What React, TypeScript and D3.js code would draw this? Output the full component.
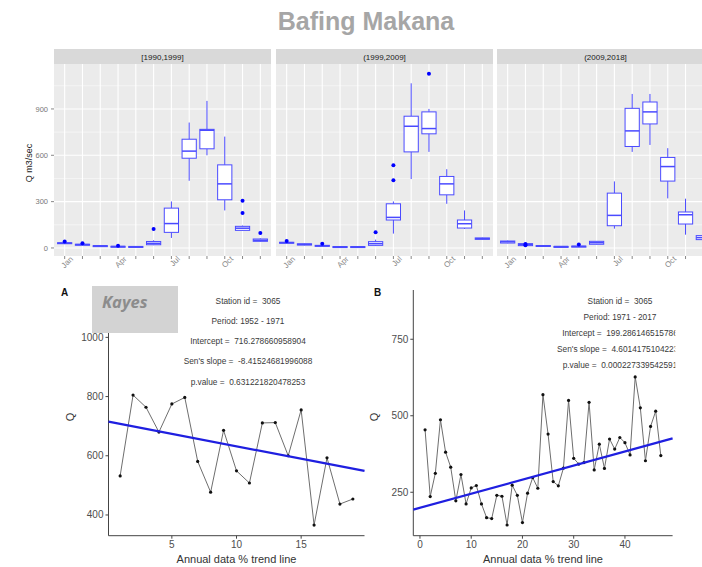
import React from "react";
import * as d3 from "d3";

const months = ["Jan","Feb","Mar","Apr","May","Jun","Jul","Aug","Sep","Oct","Nov","Dec"];
const monthLabels = ["Jan","","","Apr","","","Jul","","","Oct","",""];
const periods = ["[1990,1999]","(1999,2009]","(2009,2018]"];
const topTicks = [0, 300, 600, 900];
const topMinor = [150, 450, 750, 1050];

// [lower whisker, q1, median, q3, upper whisker]
const stats1990 = [[25,28,31,34,36],[18,20,22,24,26],[12,13,14,15,16],[6,8,9,11,12],[4,5,7,10,12],[18,21,30,42,50],[65,101,158,258,301],[435,581,627,704,812],[600,642,762,768,952],[243,312,415,538,721],[112,114,128,140,145],[40,43,50,58,62]];
const out1990 = [[42],[30],[],[15],[],[122],[],[],[],[],[226,306],[97]];
const stats1999 = [[28,31,34,37,40],[17,19,23,27,29],[10,12,14,17,20],[5,6,8,9,10],[5,6,8,9,10],[12,17,28,41,54],[93,181,198,286,301],[446,622,788,853,1066],[622,739,773,881,900],[286,344,415,463,510],[123,129,157,181,243],[54,56,60,65,67]];
const out1999 = [[45],[],[28],[],[],[101],[439,536],[],[1128],[],[],[]];
const stats2009 = [[30,32,40,45,48],[12,15,22,28,30],[10,12,14,16,18],[6,8,9,10,11],[6,8,10,12,14],[22,24,34,43,45],[125,144,211,355,431],[622,657,758,904,997],[667,803,881,945,997],[321,433,527,586,646],[86,155,215,233,319],[50,54,67,80,85]];
const out2009 = [[],[18,26],[],[],[22],[],[],[],[],[],[],[]];

const seriesA = [532,805,764,680,775,797,581,477,686,549,508,711,712,600,755,366,593,437,454];
const textA = ["Station id =  3065","Period: 1952 - 1971","Intercept =  716.278660958904","Sen's slope =  -8.41524681996088","p.value =  0.631221820478253"];
const interceptA = 716.278660958904;
const slopeA = -8.41524681996088;
const yTicksA = [400, 600, 800, 1000];
const xTicksA = [5, 10, 15];

const seriesB = [454,236,312,487,381,332,222,308,212,264,272,212,167,164,240,237,143,273,240,151,247,298,263,569,440,285,271,329,550,361,342,347,544,323,407,328,424,391,429,412,372,627,526,353,465,515,370];
const textB = ["Station id =  3065","Period: 1971 - 2017","Intercept =  199.286146515786","Sen's slope =  4.60141751042238","p.value =  0.000227339542591"];
const interceptB = 199.286146515786;
const slopeB = 4.60141751042238;
const yTicksB = [250, 500, 750];
const xTicksB = [0, 10, 20, 30, 40];

const FONT = "'Liberation Sans', Arial, sans-serif";
const BLUE = "#4a4aff";

function TopPanel({ x0, label, stats, outs }: any) {
  const w = 217;
  const x = d3.scalePoint<string>().domain(months).range([x0, x0 + w]).padding(0.6);
  const y = d3.scaleLinear().domain([-52, 1191]).range([256, 64]);
  const bw = x.step() * 0.8;
  return (
    <g>
      <rect x={x0} y={64} width={w} height={192} fill="#EBEBEB" />
      {topMinor.map((t) => (
        <line key={"m" + t} x1={x0} x2={x0 + w} y1={y(t)} y2={y(t)} stroke="#fff" strokeWidth={0.5} />
      ))}
      {topTicks.map((t) => (
        <line key={"t" + t} x1={x0} x2={x0 + w} y1={y(t)} y2={y(t)} stroke="#fff" strokeWidth={1.1} />
      ))}
      {months.map((m) => (
        <line key={"v" + m} x1={x(m)} x2={x(m)} y1={64} y2={256} stroke="#fff" strokeWidth={1.1} />
      ))}
      <rect x={x0} y={49} width={w} height={15} fill="#D9D9D9" />
      <text x={x0 + w / 2} y={59.5} textAnchor="middle" fontSize={8} fill="#1a1a1a" fontFamily={FONT}>{label}</text>
      {months.map((m, i) => {
        const [lo, q1, md, q3, hi] = stats[i];
        const cx = x(m) as number;
        return (
          <g key={"b" + m}>
            <line x1={cx} x2={cx} y1={y(hi)} y2={y(q3)} stroke={BLUE} strokeWidth={1} />
            <line x1={cx} x2={cx} y1={y(q1)} y2={y(lo)} stroke={BLUE} strokeWidth={1} />
            <rect x={cx - bw / 2} y={y(q3)} width={bw} height={Math.max(1, y(q1) - y(q3))} fill="#fff" stroke={BLUE} strokeWidth={1} />
            <line x1={cx - bw / 2} x2={cx + bw / 2} y1={y(md)} y2={y(md)} stroke={BLUE} strokeWidth={1.5} />
            {outs[i].map((o: number, j: number) => (
              <circle key={j} cx={cx} cy={y(o)} r={2} fill="#0000ff" />
            ))}
          </g>
        );
      })}
      {months.map((m, i) => (
        <g key={"xt" + m}>
          <line x1={x(m)} x2={x(m)} y1={256} y2={259} stroke="#555" strokeWidth={0.7} />
          {monthLabels[i] && (
            <text transform={`translate(${(x(m) as number) + 9},${259.5}) rotate(-45)`} textAnchor="end" fontSize={8} fill="#888" fontFamily={FONT}>{monthLabels[i]}</text>
          )}
        </g>
      ))}
    </g>
  );
}

function TrendPanel({ data, xs, ys, xTicks, yTicks, texts, tx, ty, tdy, intercept, slope, clipId, clipW, label, labelX }: any) {
  const [x0, x1] = xs.range();
  const [yb, yt] = ys.range();
  const line = d3.line<number>().x((_, i) => xs(i + 1)).y((d) => ys(d));
  const dx = xs.domain();
  return (
    <g>
      <defs>
        <clipPath id={clipId}>
          <rect x={x0 - 60} y={280} width={clipW} height={290} />
        </clipPath>
      </defs>
      <g clipPath={`url(#${clipId})`}>
        <line x1={x0} x2={x0} y1={yt} y2={yb} stroke="#444" strokeWidth={1} />
        <line x1={x0} x2={x1} y1={yb} y2={yb} stroke="#444" strokeWidth={1} />
        {yTicks.map((t: number) => (
          <g key={"y" + t}>
            <line x1={x0 - 3} x2={x0} y1={ys(t)} y2={ys(t)} stroke="#444" />
            <text x={x0 - 5} y={ys(t) + 3.5} textAnchor="end" fontSize={10} fill="#4d4d4d" fontFamily={FONT}>{t}</text>
          </g>
        ))}
        {xTicks.map((t: number) => (
          <g key={"x" + t}>
            <line x1={xs(t)} x2={xs(t)} y1={yb} y2={yb + 3} stroke="#444" />
            <text x={xs(t)} y={yb + 12} textAnchor="middle" fontSize={10} fill="#4d4d4d" fontFamily={FONT}>{t}</text>
          </g>
        ))}
        <path d={line(data) as string} fill="none" stroke="#6e6e6e" strokeWidth={1} />
        {data.map((d: number, i: number) => (
          <circle key={i} cx={xs(i + 1)} cy={ys(d)} r={1.6} fill="#111" />
        ))}
        <line x1={xs(dx[0])} x2={xs(dx[1])} y1={ys(intercept + slope * dx[0])} y2={ys(intercept + slope * dx[1])} stroke="#1f1fe0" strokeWidth={2.2} />
        {texts.map((t: string, i: number) => (
          <text key={i} x={tx} y={ty + i * tdy} textAnchor="middle" fontSize={8.3} fill="#3a3a3a" fontFamily={FONT} style={{ whiteSpace: "pre" }}>{t}</text>
        ))}
        <text x={(x0 + x1) / 2} y={yb + 27} textAnchor="middle" fontSize={11} fill="#333" fontFamily={FONT}>Annual data % trend line</text>
        <text transform={`translate(${x0 - 35},${(yt + yb) / 2 + 4}) rotate(-90)`} textAnchor="middle" fontSize={11} fill="#333" fontFamily={FONT}>Q</text>
        <text x={labelX} y={296} fontSize={10} fontWeight="bold" fill="#111" fontFamily={FONT}>{label}</text>
      </g>
    </g>
  );
}

export default function App() {
  const xA = d3.scaleLinear().domain([0.1, 19.9]).range([108.5, 364.5]);
  const yA = d3.scaleLinear().domain([330, 1160]).range([535.7, 290]);
  const xB = d3.scaleLinear().domain([-1.3, 49.3]).range([413.3, 672.6]);
  const yB = d3.scaleLinear().domain([108, 911]).range([535.7, 290]);
  const yTop = d3.scaleLinear().domain([-52, 1191]).range([256, 64]);
  return (
    <svg width={702} height={567} style={{ position: "absolute", left: 0, top: 0, background: "#fff" }}>
      <text x={366} y={30} textAnchor="middle" fontSize={25} fontWeight="bold" fill="#a6a6a6" fontFamily={FONT}>Bafing Makana</text>
      <TopPanel x0={54} label={periods[0]} stats={stats1990} outs={out1990} />
      <TopPanel x0={276} label={periods[1]} stats={stats1999} outs={out1999} />
      <TopPanel x0={497} label={periods[2]} stats={stats2009} outs={out2009} />
      {topTicks.map((t) => (
        <g key={"yt" + t}>
          <line x1={51} x2={54} y1={yTop(t)} y2={yTop(t)} stroke="#555" strokeWidth={0.7} />
          <text x={48} y={yTop(t) + 2.7} textAnchor="end" fontSize={7.5} fill="#777" fontFamily={FONT}>{t}</text>
        </g>
      ))}
      <text transform={`translate(32,163) rotate(-90)`} textAnchor="middle" fontSize={9} fill="#222" fontFamily={FONT}>Q m3/sec</text>

      <TrendPanel data={seriesA} xs={xA} ys={yA} xTicks={xTicksA} yTicks={yTicksA} texts={textA} tx={248} ty={303.5} tdy={20.3} intercept={interceptA} slope={slopeA} clipId="clipA" clipW={330} label="A" labelX={61} />
      <rect x={92} y={286} width={86} height={47} fill="#D3D3D3" />
      <text x={102} y={307.5} fontSize={16.5} fontWeight="bold" fontStyle="italic" fill="#8c8c8c" fontFamily="'Open Sans', sans-serif">Kayes</text>
      <TrendPanel data={seriesB} xs={xB} ys={yB} xTicks={xTicksB} yTicks={yTicksB} texts={textB} tx={620} ty={303.5} tdy={16.2} intercept={interceptB} slope={slopeB} clipId="clipB" clipW={322} label="B" labelX={374} />
    </svg>
  );
}
